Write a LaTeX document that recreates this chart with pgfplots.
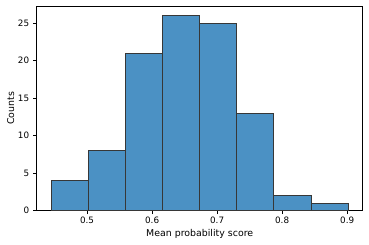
\documentclass[border=0pt]{standalone}
\usepackage{pgfplots}
\pgfplotsset{compat=1.18}
\usepackage{fontspec}
\setmainfont{DejaVu Sans}
\definecolor{barfill}{RGB}{75,145,196}
\definecolor{baredge}{RGB}{55,55,55}
\begin{document}
\begin{tikzpicture}
\useasboundingbox (-36.7pt,-34.3pt) rectangle (332.3pt,210.5pt);
\begin{axis}[
  at={(0,0)}, anchor=south west,
  scale only axis, width=326pt, height=204.5pt,
  xmin=0.4225, xmax=0.9239, ymin=0, ymax=27.3,
  xtick={0.5,0.6,0.7,0.8,0.9},
  xticklabels={0.5,0.6,0.7,0.8,0.9},
  ytick={0,5,10,15,20,25},
  yticklabels={0,5,10,15,20,25},
  tick align=outside, tick pos=left,
  major tick length=3.5pt,
  every tick/.style={black, line width=0.6pt},
  axis line style={line width=0.6pt},
  ticklabel style={font=\fontsize{8.8}{10}\selectfont},
  xticklabel style={yshift=1pt},
  yticklabel style={xshift=-0.5pt},
  label style={font=\fontsize{9.4}{11}\selectfont},
  xlabel={Mean probability score},
  ylabel={Counts},
  xlabel style={at={(axis description cs:0.5,0)}, anchor=center, yshift=-23.3pt},
  ylabel style={at={(axis description cs:0,0.5)}, anchor=center, yshift=26pt},
]
\addplot[ybar interval, fill=barfill, draw=baredge, line width=0.6pt]
coordinates {(0.4453,4)(0.5023,8)(0.5593,21)(0.6162,26)(0.6732,25)(0.7302,13)(0.7871,2)(0.8441,1)(0.9011,1)};
\end{axis}
\end{tikzpicture}
\end{document}
